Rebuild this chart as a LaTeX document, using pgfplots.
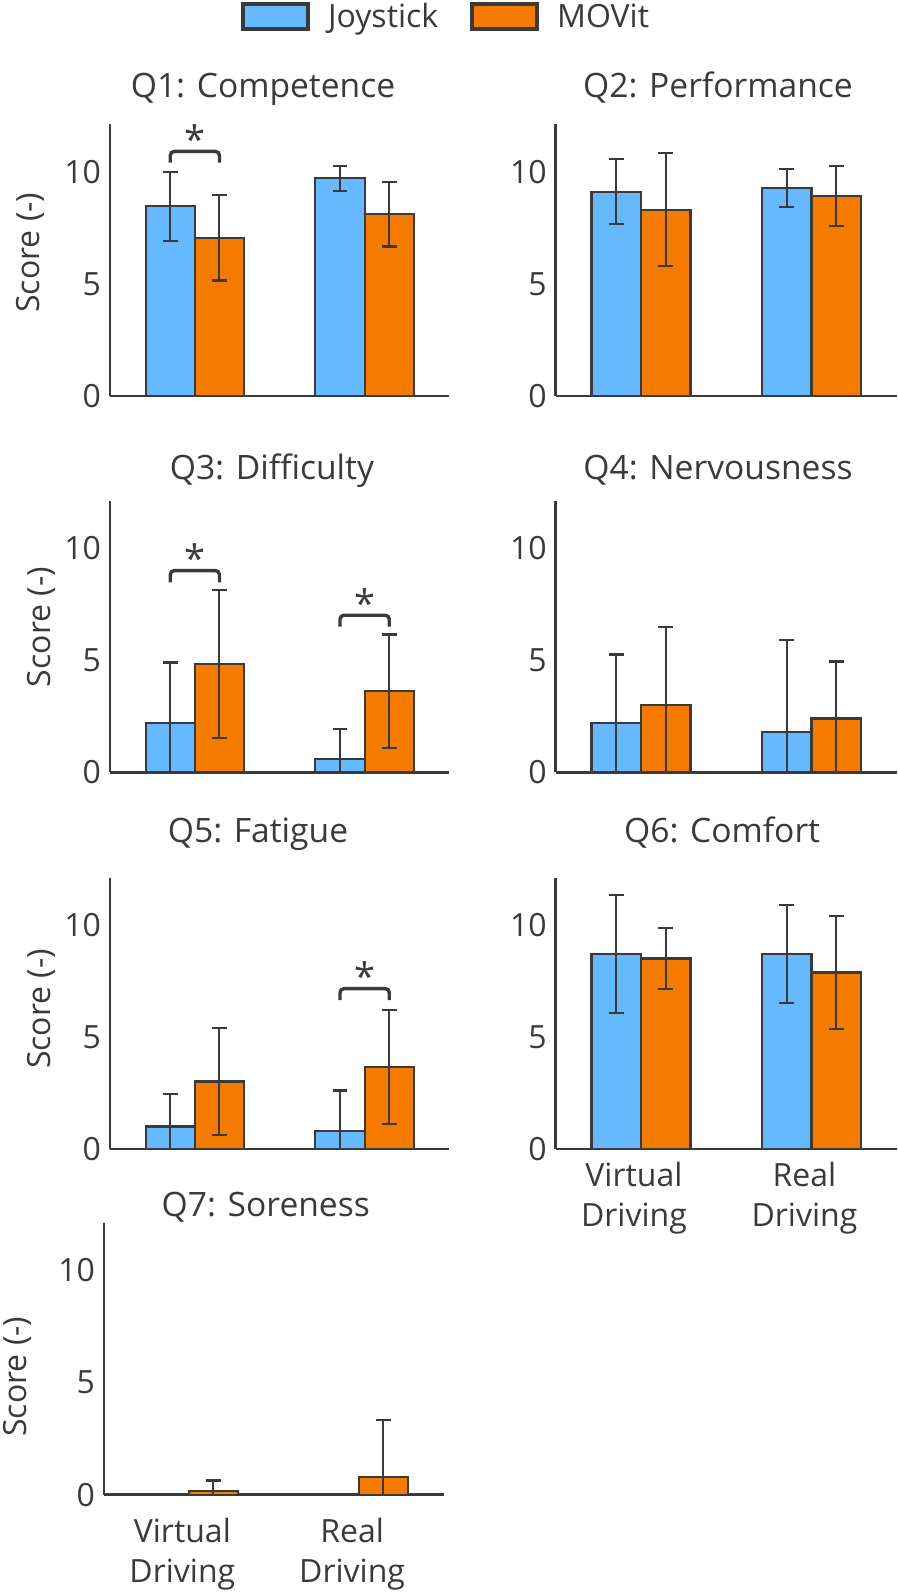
\documentclass[border=0pt]{standalone}
\usepackage{fontspec}
\setmainfont{Open Sans}
\usepackage{pgfplots}
\pgfplotsset{compat=1.18}
\definecolor{jblue}{HTML}{66B8FF}
\definecolor{morange}{HTML}{F57A00}
\definecolor{dgray}{HTML}{3A3A3A}
\newcommand\ff{\fontsize{16}{20}\selectfont}
\newcommand\ft{\fontsize{16.8}{20}\selectfont}
\newcommand\fs{\fontsize{19}{20}\selectfont}
\pgfplotsset{
  panel/.style={
    scale only axis, width=169.75pt, height=135.75pt,
    xmin=-0.5, xmax=1.5, ymin=0, ymax=12.1,
    axis x line=bottom, axis y line=left,
    axis line style={dgray, line width=1.4pt, -},
    ytick={0,5,10}, xtick=\empty,
    major tick length=0pt,
    tick label style={font=\ff, text=dgray},
    /pgf/number format/assume math mode=true,
    yticklabel style={xshift=-1pt},
    title style={font=\ft, text=dgray, anchor=base, yshift=-6pt},
    ylabel style={font=\ff, text=dgray, anchor=center},
    clip=true,
  },
  jb/.style={ybar, bar width=0.29, bar shift=0pt, fill=jblue, draw=dgray, line width=1.1pt, forget plot},
  mo/.style={ybar, bar width=0.29, bar shift=0pt, fill=morange, draw=dgray, line width=1.1pt, forget plot},
  eb/.style={/pgfplots/error bars/y dir=both, /pgfplots/error bars/y explicit,
    /pgfplots/error bars/error bar style={dgray, line width=1pt},
    /pgfplots/error bars/error mark options={rotate=90, mark size=3.7pt, dgray, line width=1.1pt}},
  br/.style={forget plot, sharp plot, no marks, draw=dgray, line width=1.7pt, rounded corners=2pt},
}
\begin{document}
\begin{tikzpicture}
\useasboundingbox (0,0) rectangle (449pt,-797.5pt);

% Q1
\begin{axis}[panel, at={(55pt,-198pt)}, anchor=south west,
  title={Q1: Competence}, title style={at={(axis description cs:0.4507,1.101)}},
  ylabel={Score (-)}, ylabel style={at={(axis description cs:-0.2356,0.528)}},
  legend columns=2,
  legend style={at={(axis description cs:0.993,1.396)}, anchor=center, draw=none, fill=none,
    font=\ff, text=dgray,
    /tikz/every odd column/.append style={column sep=7pt},
    /tikz/every even column/.append style={column sep=14pt}}]
\addlegendimage{legend image code/.code={\draw[fill=jblue, draw=dgray, line width=2pt] (0pt,-6.25pt) rectangle (32.5pt,6.25pt);}}
\addlegendentry{Joystick}
\addlegendimage{legend image code/.code={\draw[fill=morange, draw=dgray, line width=2pt] (0pt,-6.25pt) rectangle (32.5pt,6.25pt);}}
\addlegendentry{MOVit}
\addplot[jb, eb] coordinates {(-0.145,8.45) +- (0,1.55) (0.855,9.7) +- (0,0.56)};
\addplot[mo, eb] coordinates {(0.145,7.05) +- (0,1.9) (1.145,8.1) +- (0,1.44)};
\addplot[br] coordinates {(-0.145,10.4) (-0.145,10.9) (0.145,10.9) (0.145,10.4)};
\node[font=\fs, text=dgray, anchor=base] at (axis cs:0,10.8) {*};
\end{axis}

% Q2
\begin{axis}[panel, width=170.5pt, at={(277.85pt,-198pt)}, anchor=south west,
  title={Q2: Performance}, title style={at={(axis description cs:0.476,1.101)}}]
\addplot[jb, eb] coordinates {(-0.145,9.1) +- (0,1.45) (0.855,9.28) +- (0,0.84)};
\addplot[mo, eb] coordinates {(0.145,8.3) +- (0,2.52) (1.145,8.9) +- (0,1.34)};
\end{axis}

% Q3
\begin{axis}[panel, at={(55pt,-386.15pt)}, anchor=south west,
  title={Q3: Difficulty}, title style={at={(axis description cs:0.477,1.079)}},
  ylabel={Score (-)}, ylabel style={at={(axis description cs:-0.203,0.535)}}]
\addplot[jb, eb] coordinates {(-0.145,2.19) +- (0,2.7) (0.855,0.58) +- (0,1.34)};
\addplot[mo, eb] coordinates {(0.145,4.84) +- (0,3.3) (1.145,3.61) +- (0,2.53)};
\addplot[br] coordinates {(-0.145,8.46) (-0.145,8.99) (0.145,8.99) (0.145,8.46)};
\addplot[br] coordinates {(0.855,6.49) (0.855,7.0) (1.145,7.0) (1.145,6.49)};
\node[font=\fs, text=dgray, anchor=base] at (axis cs:0,8.9) {*};
\node[font=\fs, text=dgray, anchor=base] at (axis cs:1,6.9) {*};
\end{axis}

% Q4
\begin{axis}[panel, width=170.5pt, at={(277.85pt,-386.15pt)}, anchor=south west,
  title={Q4: Nervousness}, title style={at={(axis description cs:0.476,1.079)}}]
\addplot[jb, eb] coordinates {(-0.145,2.19) +- (0,3.06) (0.855,1.79) +- (0,4.09)};
\addplot[mo, eb] coordinates {(0.145,3.01) +- (0,3.48) (1.145,2.4) +- (0,2.54)};
\end{axis}

% Q5
\begin{axis}[panel, at={(55pt,-574.5pt)}, anchor=south west,
  title={Q5: Fatigue}, title style={at={(axis description cs:0.436,1.13)}},
  ylabel={Score (-)}, ylabel style={at={(axis description cs:-0.203,0.516)}}]
\addplot[jb, eb] coordinates {(-0.145,1.0) +- (0,1.45) (0.855,0.82) +- (0,1.79)};
\addplot[mo, eb] coordinates {(0.145,3.01) +- (0,2.37) (1.145,3.64) +- (0,2.54)};
\addplot[br] coordinates {(0.855,6.64) (0.855,7.15) (1.145,7.15) (1.145,6.64)};
\node[font=\fs, text=dgray, anchor=base] at (axis cs:1,7.05) {*};
\end{axis}

% Q6
\begin{axis}[panel, width=170.5pt, at={(277.85pt,-574.5pt)}, anchor=south west,
  title={Q6: Comfort}, title style={at={(axis description cs:0.488,1.13)}},
  xtick={0,1}, xticklabels={{Virtual\\Driving},{Real\\Driving}},
  xticklabel style={align=center, xshift=-3.5pt, yshift=-3pt}]
\addplot[jb, eb] coordinates {(-0.145,8.69) +- (0,2.62) (0.855,8.69) +- (0,2.2)};
\addplot[mo, eb] coordinates {(0.145,8.49) +- (0,1.36) (1.145,7.87) +- (0,2.52)};
\end{axis}

% Q7
\begin{axis}[panel, at={(52pt,-747.35pt)}, anchor=south west,
  title={Q7: Soreness}, title style={at={(axis description cs:0.4766,1.023)}},
  ylabel={Score (-)}, ylabel style={at={(axis description cs:-0.255,0.435)}},
  xtick={0,1}, xticklabels={{Virtual\\Driving},{Real\\Driving}},
  xticklabel style={align=center, xshift=-3.25pt, yshift=-8pt}]
\addplot[jb, eb] coordinates {(-0.145,0) +- (0,0) (0.855,0) +- (0,0)};
\addplot[mo, eb] coordinates {(0.145,0.18) +- (0,0.45) (1.145,0.79) +- (0,2.54)};
\end{axis}
\end{tikzpicture}
\end{document}
